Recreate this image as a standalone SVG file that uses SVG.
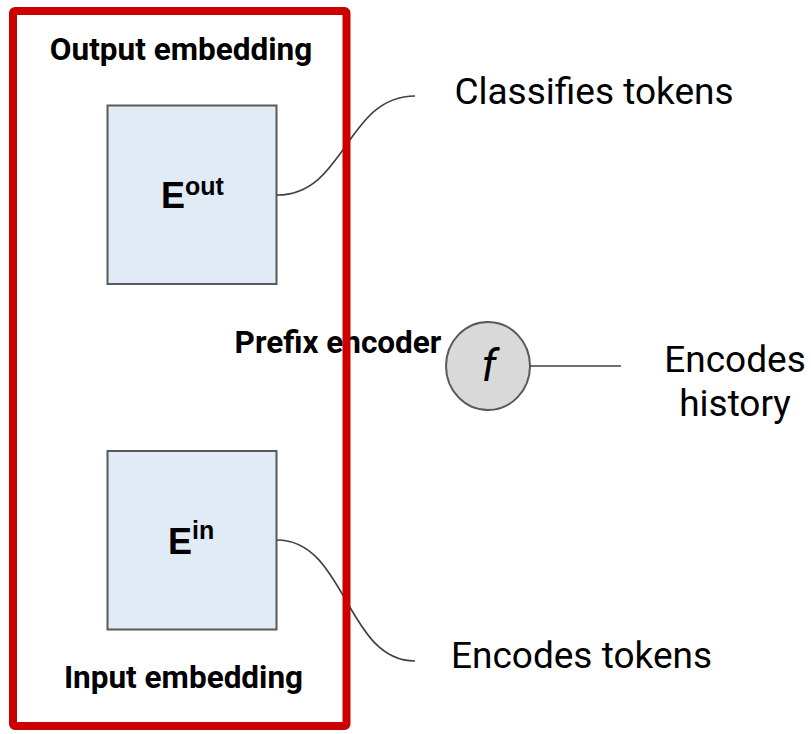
<svg xmlns="http://www.w3.org/2000/svg" width="811" height="734" viewBox="0 0 811 734">
  <style>
    .box { fill: #e1ebf6; stroke: #595959; stroke-width: 2; }
    .link { fill: none; stroke: #404040; stroke-width: 1.6; }
    .title { font-family: Roboto, "Liberation Sans", sans-serif; font-weight: bold; font-size: 31.5px; fill: #000; }
    .note { font-family: Roboto, "Liberation Sans", sans-serif; font-size: 37px; fill: #000; }
    .sym { font-family: "Liberation Sans", Arial, sans-serif; font-weight: bold; fill: #000; }
    .frame { fill: none; stroke: #cc0000; stroke-width: 8; }
  </style>

  <!-- embedding matrices -->
  <g id="e-out">
    <rect class="box" x="107.5" y="105.5" width="169" height="178.5"/>
    <text class="sym" x="161" y="208" font-size="36">E<tspan font-size="25" dy="-13">out</tspan></text>
  </g>
  <g id="e-in">
    <rect class="box" x="107.5" y="451" width="169" height="178.5"/>
    <text class="sym" x="168" y="554" font-size="36">E<tspan font-size="25" dy="-15">in</tspan></text>
  </g>

  <!-- prefix encoder -->
  <g id="prefix-encoder">
    <ellipse cx="488" cy="366" rx="42" ry="44" fill="#d9d9d9" stroke="#595959" stroke-width="2"/>
    <text x="489" y="381" text-anchor="middle" font-family="Roboto, 'Liberation Sans', sans-serif" font-style="italic" font-size="44">f</text>
  </g>

  <!-- connectors -->
  <g id="connectors">
    <path class="link" d="M277,195 C346,195 346,96 415,96"/>
    <path class="link" d="M277,540 C346,540 346,661 415,661"/>
    <line class="link" x1="530" y1="366" x2="621" y2="366"/>
  </g>

  <!-- labels -->
  <g id="labels">
    <text class="title" x="181" y="60" text-anchor="middle">Output embedding</text>
    <text class="title" x="183.5" y="688" text-anchor="middle">Input embedding</text>
    <text class="title" x="338" y="353" text-anchor="middle" font-size="25.5">Prefix encoder</text>
    <text class="note" x="594" y="104" text-anchor="middle">Classifies tokens</text>
    <text class="note" x="581.5" y="668" text-anchor="middle">Encodes tokens</text>
    <text class="note" x="735" y="372" text-anchor="middle">Encodes</text>
    <text class="note" x="735" y="416" text-anchor="middle">history</text>
  </g>

  <!-- frame around the embedding tables -->
  <g id="frame">
    <rect class="frame" x="13" y="11" width="333.5" height="715" rx="2"/>
  </g>
</svg>
